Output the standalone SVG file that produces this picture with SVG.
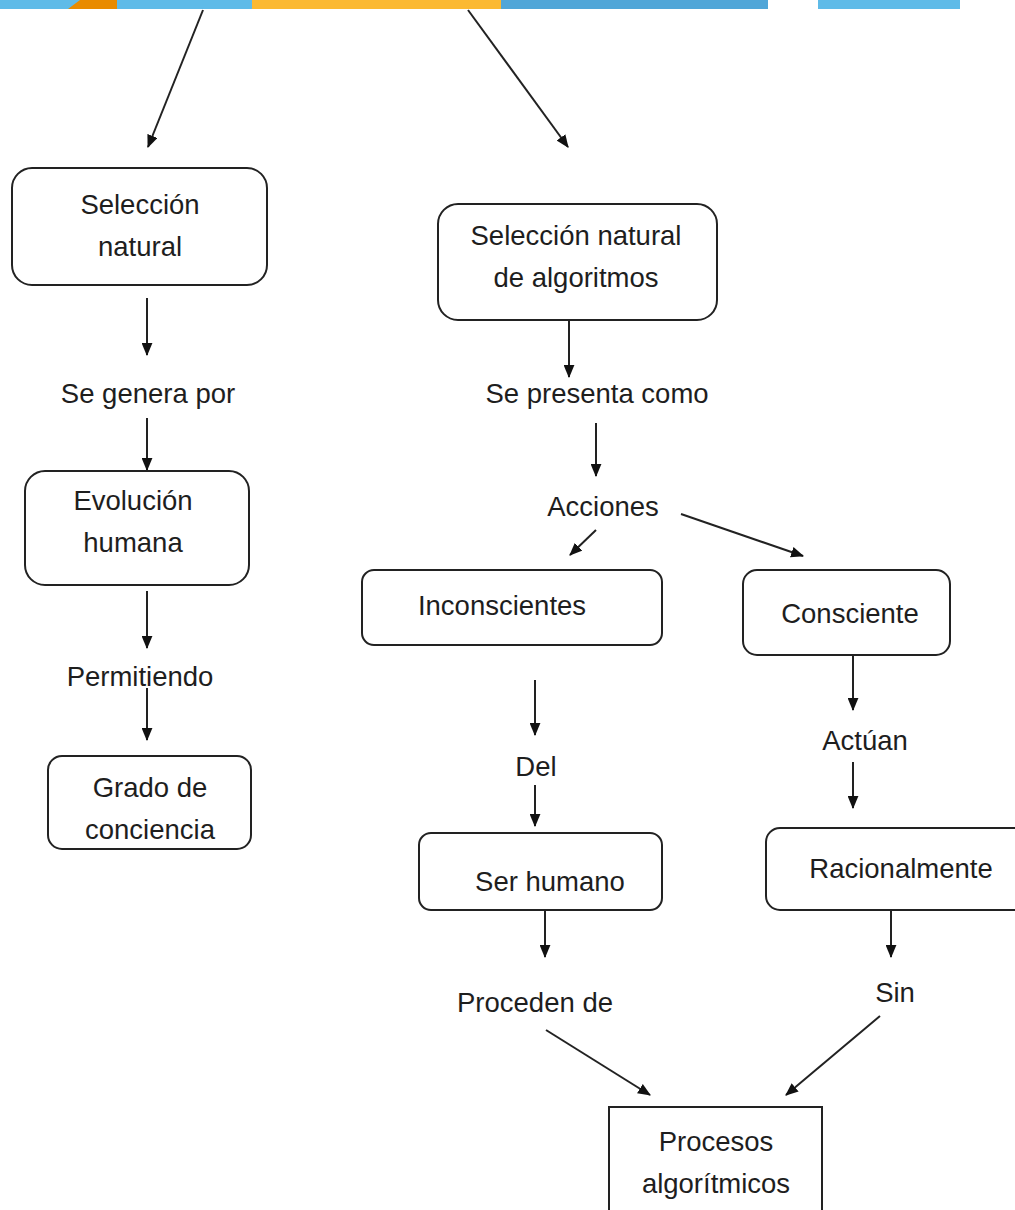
<svg xmlns="http://www.w3.org/2000/svg" width="1015" height="1210" viewBox="0 0 1015 1210">
<defs>
<marker id="ah" viewBox="0 0 12 10" refX="11" refY="5" markerWidth="13" markerHeight="11" markerUnits="userSpaceOnUse" orient="auto">
<path d="M0,0 L12,5 L0,10 Z" fill="#111"/>
</marker>
<style>
.box{fill:#fff;stroke:#222;stroke-width:2}
.t{font-family:"Liberation Sans",Arial,sans-serif;font-size:27.5px;fill:#1e1e1e;text-anchor:middle;dominant-baseline:central}
.c{stroke:#222;stroke-width:2;fill:none;marker-end:url(#ah)}
</style>
</defs>
<rect width="1015" height="1210" fill="#fff"/>
<g id="banner">
<rect x="0" y="0" width="960" height="9" fill="#5fbbe8"/>
<polygon points="68,9 80,0 117,0 117,9" fill="#e98b00"/>
<rect x="252" y="0" width="249" height="9" fill="#fbb932"/>
<rect x="501" y="0" width="267" height="9" fill="#50a6d8"/>
<rect x="768" y="0" width="50" height="9" fill="#fff"/>
</g>
<g id="connectors">
<line class="c" x1="203" y1="10" x2="148" y2="147"/>
<line class="c" x1="468" y1="10" x2="568" y2="147"/>
<line class="c" x1="147" y1="298" x2="147" y2="355"/>
<line class="c" x1="147" y1="418" x2="147" y2="470"/>
<line class="c" x1="147" y1="591" x2="147" y2="648"/>
<line class="c" x1="147" y1="688" x2="147" y2="740"/>
<line class="c" x1="569" y1="320" x2="569" y2="377"/>
<line class="c" x1="596" y1="423" x2="596" y2="476"/>
<line class="c" x1="596" y1="530" x2="570" y2="555"/>
<line class="c" x1="681" y1="514" x2="803" y2="556"/>
<line class="c" x1="535" y1="680" x2="535" y2="735"/>
<line class="c" x1="535" y1="785" x2="535" y2="826"/>
<line class="c" x1="853" y1="655" x2="853" y2="710"/>
<line class="c" x1="853" y1="762" x2="853" y2="808"/>
<line class="c" x1="545" y1="910" x2="545" y2="957"/>
<line class="c" x1="891" y1="910" x2="891" y2="957"/>
<line class="c" x1="546" y1="1030" x2="650" y2="1095"/>
<line class="c" x1="880" y1="1016" x2="786" y2="1095"/>
</g>
<g id="n-seleccion-natural">
<rect class="box" x="12" y="168" width="255" height="117" rx="20"/>
<text class="t" x="140" y="204">Selección</text>
<text class="t" x="140" y="246">natural</text>
</g>
<g id="n-seleccion-algoritmos">
<rect class="box" x="438" y="204" width="279" height="116" rx="20"/>
<text class="t" x="576" y="235">Selección natural</text>
<text class="t" x="576" y="277">de algoritmos</text>
</g>
<g id="n-evolucion">
<rect class="box" x="25" y="471" width="224" height="114" rx="20"/>
<text class="t" x="133" y="500">Evolución</text>
<text class="t" x="133" y="542">humana</text>
</g>
<g id="n-grado">
<rect class="box" x="48" y="756" width="203" height="93" rx="14"/>
<text class="t" x="150" y="787">Grado de</text>
<text class="t" x="150" y="829">conciencia</text>
</g>
<g id="n-inconscientes">
<rect class="box" x="362" y="570" width="300" height="75" rx="12"/>
<text class="t" x="502" y="605">Inconscientes</text>
</g>
<g id="n-consciente">
<rect class="box" x="743" y="570" width="207" height="85" rx="14"/>
<text class="t" x="850" y="613">Consciente</text>
</g>
<g id="n-ser-humano">
<rect class="box" x="419" y="833" width="243" height="77" rx="12"/>
<text class="t" x="550" y="881">Ser humano</text>
</g>
<g id="n-racionalmente">
<rect class="box" x="766" y="828" width="262" height="82" rx="14"/>
<text class="t" x="901" y="868">Racionalmente</text>
</g>
<g id="n-procesos">
<rect class="box" x="609" y="1107" width="213" height="112"/>
<text class="t" x="716" y="1141">Procesos</text>
<text class="t" x="716" y="1183">algorítmicos</text>
</g>
<g id="labels">
<text class="t" x="148" y="393">Se genera por</text>
<text class="t" x="597" y="393">Se presenta como</text>
<text class="t" x="603" y="506">Acciones</text>
<text class="t" x="140" y="676">Permitiendo</text>
<text class="t" x="536" y="766">Del</text>
<text class="t" x="865" y="740">Actúan</text>
<text class="t" x="535" y="1002">Proceden de</text>
<text class="t" x="895" y="992">Sin</text>
</g>
</svg>
